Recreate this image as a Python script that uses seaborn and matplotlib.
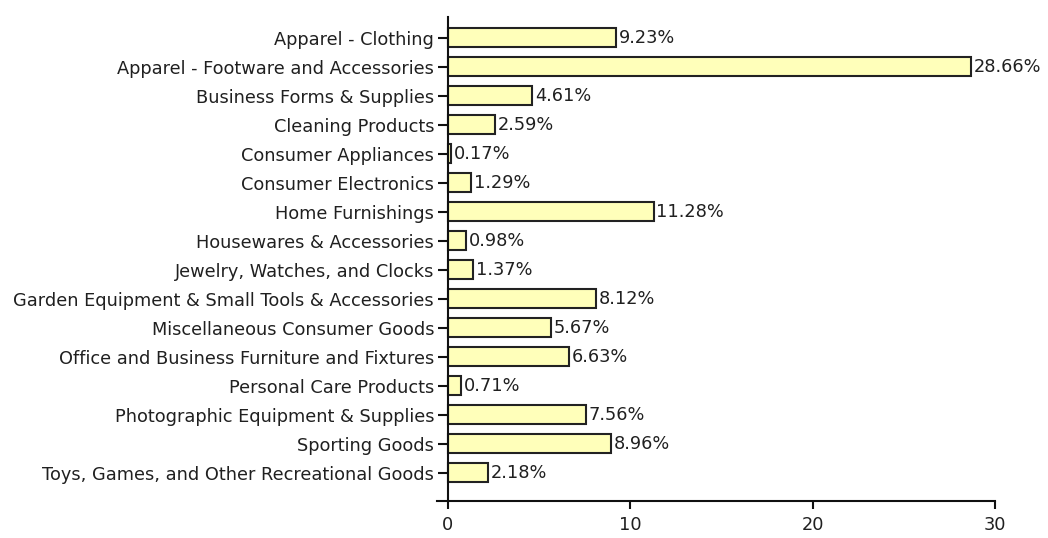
import pandas as pd
import numpy as np
import seaborn as sns
import matplotlib
matplotlib.use('Agg')
import matplotlib.pyplot as plt

# Category names and share values
categories = ['Apparel - Clothing', 'Apparel - Footware and Accessories',
              'Business Forms & Supplies', 'Cleaning Products',
              'Consumer Appliances', 'Consumer Electronics',
              'Home Furnishings', 'Housewares & Accessories',
              'Jewelry, Watches, and Clocks',
              'Garden Equipment & Small Tools & Accessories',
              'Miscellaneous Consumer Goods',
              'Office and Business Furniture and Fixtures',
              'Personal Care Products', 'Photographic Equipment & Supplies',
              'Sporting Goods', 'Toys, Games, and Other Recreational Goods']
shares = [9.23, 28.66, 4.61, 2.59, 0.17, 1.29, 11.28, 0.98, 1.37,
          8.12, 5.67, 6.63, 0.71, 7.56, 8.96, 2.18]
x_ticks = [0, 10, 20, 30]

df = pd.DataFrame({'category': categories, 'share': shares})

sns.set_style('white')
plt.rcParams['font.family'] = ['DejaVu Sans']
txt = '#202020'
line = '#101010'
fs = 12.8

fig = plt.figure(figsize=(10.48, 5.38), dpi=100)
ax = fig.add_axes([437 / 1048, 1 - 501 / 538, 558 / 1048, (501 - 17) / 538])

sns.barplot(data=df, x='share', y='category', orient='h', color='#FFFFBA',
            saturation=1, edgecolor='#222222', linewidth=1.5, width=0.67,
            errorbar=None, ax=ax)

ax.bar_label(ax.containers[0], labels=[f'{v:.2f}%' for v in shares],
             padding=2, fontsize=fs, color=txt)

ax.set_xlim(-0.6, 30)
ax.set_ylim(15.98, -0.707)
ax.set_xticks(x_ticks)
ax.set_xlabel('')
ax.set_ylabel('')

for s in ['top', 'right']:
    ax.spines[s].set_visible(False)
ax.spines['left'].set_position(('data', 0))
for s in ['left', 'bottom']:
    ax.spines[s].set_color(line)
    ax.spines[s].set_linewidth(1.5)

ax.tick_params(axis='y', length=7, width=1.5, pad=3, labelsize=fs,
               labelcolor=txt, left=True, color=line)
ax.tick_params(axis='x', length=6, width=1.5, pad=5, labelsize=fs,
               labelcolor=txt, bottom=True, color=line)
# small cap at the top of the category axis
ax.set_yticks([-0.707], minor=True)
ax.tick_params(axis='y', which='minor', length=7, width=1.5, color=line)

plt.savefig('out.png', dpi=100)
